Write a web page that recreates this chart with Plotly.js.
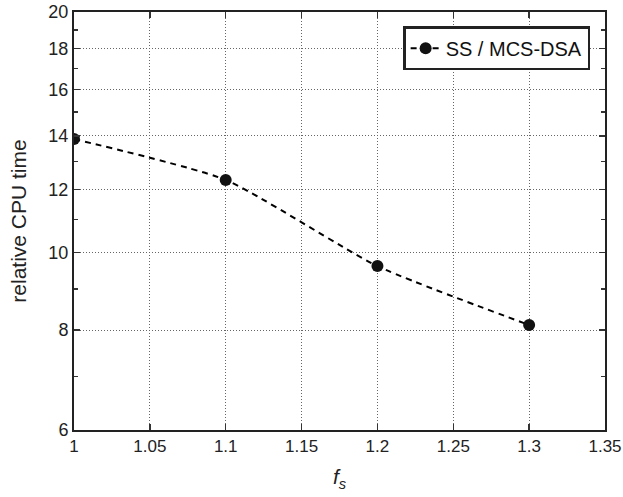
<!DOCTYPE html>
<html>
<head>
<meta charset="utf-8">
<script src="https://cdn.plot.ly/plotly-3.0.1.min.js"></script>
<style>html,body{margin:0;padding:0;background:#fff;}#chart{width:623px;height:497px;}</style>
</head>
<body>
<div id="chart"></div>
<script>
var fsValues = [1.0, 1.1, 1.2, 1.3];
var relCpuTime = [13.87, 12.33, 9.62, 8.12];
var seriesName = "SS / MCS-DSA";
var xTickVals = [1, 1.05, 1.1, 1.15, 1.2, 1.25, 1.3, 1.35];
var xTickText = ["1", "1.05", "1.1", "1.15", "1.2", "1.25", "1.3", "1.35"];
var yTickVals = [6, 8, 10, 12, 14, 16, 18, 20];
var yTickText = ["6", "8", "10", "12", "14", "16", "18", "20"];
var yMinorVals = [7, 9, 11, 13, 15, 17, 19];

var trace = {
  x: fsValues, y: relCpuTime, name: seriesName,
  type: 'scatter', mode: 'lines+markers',
  line: {color: '#000', width: 2, dash: '6px,5px', shape: 'spline', smoothing: 0.55},
  marker: {color: '#111', size: 12, symbol: 'circle'}
};
var fontFam = 'Liberation Sans, Arial, sans-serif';
var layout = {
  width: 623, height: 497,
  margin: {l: 74, r: 18, t: 12, b: 67},
  paper_bgcolor: '#fff', plot_bgcolor: '#fff',
  font: {family: fontFam, size: 18, color: '#222'},
  showlegend: true,
  legend: {x: 0.972, y: 0.966, xanchor: 'right', yanchor: 'top',
    bgcolor: '#fff', bordercolor: '#222', borderwidth: 2.5,
    font: {family: fontFam, size: 20, color: '#111'}},
  xaxis: {
    range: [1, 1.35], tickmode: 'array', tickvals: xTickVals, ticktext: xTickText,
    ticks: 'inside', ticklen: 6, tickwidth: 1.5, tickcolor: '#333',
    showline: true, linewidth: 2, linecolor: '#222', mirror: 'ticks',
    showgrid: true, gridcolor: '#666', griddash: '1px,2px', gridwidth: 1,
    zeroline: false, tickfont: {size: 17},
    title: {text: '<i>f</i><sub><i>s</i></sub>', font: {size: 21}, standoff: 14}
  },
  yaxis: {
    type: 'log', range: [Math.log10(6), Math.log10(20)],
    tickmode: 'array', tickvals: yTickVals, ticktext: yTickText,
    ticks: 'inside', ticklen: 6, tickwidth: 1.5, tickcolor: '#333',
    showline: true, linewidth: 2, linecolor: '#222', mirror: 'ticks',
    showgrid: true, gridcolor: '#666', griddash: '1px,2px', gridwidth: 1,
    zeroline: false, tickfont: {size: 18},
    minor: {tickvals: yMinorVals, ticks: 'inside', ticklen: 4, tickcolor: '#333', showgrid: false},
    title: {text: 'relative CPU time', font: {size: 21}, standoff: 16}
  }
};
Plotly.newPlot('chart', [trace], layout, {displayModeBar: false, staticPlot: true});
</script>
</body>
</html>
